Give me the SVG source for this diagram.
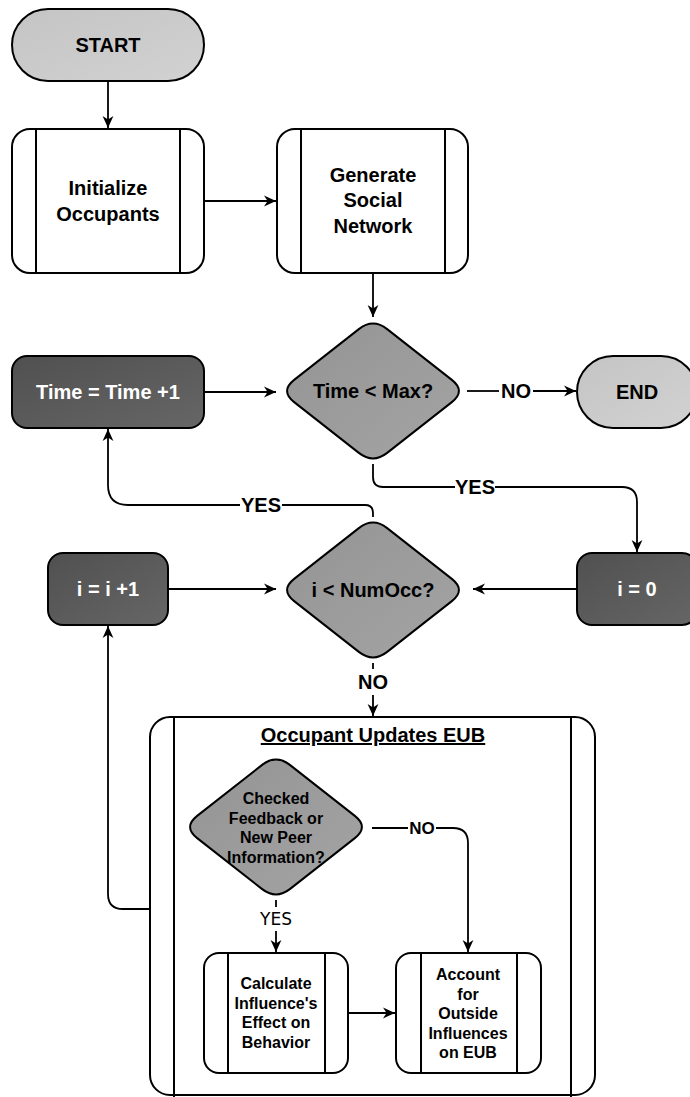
<svg xmlns="http://www.w3.org/2000/svg" width="690" height="1097" viewBox="0 0 690 1097">
  <style>
    .shape { stroke: #000; stroke-width: 2; }
    .edge { fill: none; stroke: #000; stroke-width: 1.8; }
    .arrow { marker-end: url(#head); }
    .term { fill: url(#gLight); }
    .dark { fill: url(#gDark); }
    .dec { fill: url(#gMid); }
    .proc { fill: #fff; }
    .frame { fill: none; }
    text { font-family: "Liberation Sans", Arial, sans-serif; font-weight: bold; text-anchor: middle; }
    .t20 { font-size: 20px; fill: #000; }
    .w20 { font-size: 20px; fill: #fff; }
    .t16 { font-size: 16px; fill: #000; }
    .lbl { font-size: 20px; fill: #000; }
    .lblS { font-size: 17px; fill: #000; }
    .lblYes { font-family: "DejaVu Sans", sans-serif; font-weight: normal; font-size: 17px; fill: #000; }
  </style>
  <defs>
    <linearGradient id="gLight" x1="0" y1="0" x2="1" y2="1">
      <stop offset="0" stop-color="#c4c4c4"/>
      <stop offset="1" stop-color="#d2d2d2"/>
    </linearGradient>
    <linearGradient id="gDark" x1="0" y1="0" x2="1" y2="1">
      <stop offset="0" stop-color="#505050"/>
      <stop offset="1" stop-color="#666666"/>
    </linearGradient>
    <linearGradient id="gMid" x1="0" y1="0" x2="1" y2="1">
      <stop offset="0" stop-color="#949494"/>
      <stop offset="1" stop-color="#a4a4a4"/>
    </linearGradient>
    <marker id="head" viewBox="0 0 10 10" refX="10" refY="5" markerWidth="12" markerHeight="12" markerUnits="userSpaceOnUse" orient="auto">
      <path d="M0,0.5 L10,5 L0,9.5 L3,5 Z" fill="#000"/>
    </marker>
    <!-- rounded rhombus centred on the origin -->
    <path id="rhombus" d="M-14.16,-61.89 Q0,-73 14.16,-61.89 L78.84,-11.11 Q93,0 78.84,11.11 L14.16,61.89 Q0,73 -14.16,61.89 L-78.84,11.11 Q-93,0 -78.84,-11.11 Z"/>
  </defs>

  <rect width="690" height="1097" fill="#fff"/>

  <!-- sub-process frame (drawn first so its contents sit on top) -->
  <g id="updates-eub">
    <rect class="shape frame" x="150" y="717" width="445" height="378" rx="20"/>
    <path class="shape" d="M174,717 V1097 M571,717 V1097"/>
    <text class="t20" x="373" y="742" text-decoration="underline">Occupant Updates EUB</text>
  </g>

  <!-- connectors -->
  <g id="connectors">
    <path class="edge arrow" d="M108,81 L108,128"/>
    <path class="edge arrow" d="M204,201 L276,201"/>
    <path class="edge arrow" d="M373,273 L373,317"/>
    <path class="edge arrow" d="M204,392 L276,392"/>
    <path class="edge" d="M467,391 L499,391"/>
    <text class="lbl" x="516" y="398">NO</text>
    <path class="edge arrow" d="M533,391 L576,391"/>
    <path class="edge" d="M373,464 L373,477 Q373,487 383,487 L455,487"/>
    <text class="lbl" x="475" y="494">YES</text>
    <path class="edge arrow" d="M495,487 L622,487 Q637,487 637,502 L637,552"/>
    <path class="edge arrow" d="M577,589 L473,589"/>
    <path class="edge arrow" d="M168,589 L276,589"/>
    <path class="edge" d="M373,517 L373,513 Q373,505 365,505 L282,505"/>
    <text class="lbl" x="261" y="512">YES</text>
    <path class="edge arrow" d="M240,505 L128,505 Q108,505 108,485 L108,429"/>
    <path class="edge" d="M373,663 L373,669"/>
    <text class="lbl" x="373" y="689">NO</text>
    <path class="edge arrow" d="M373,695 L373,716"/>
    <path class="edge arrow" d="M150,909 L123,909 Q108,909 108,894 L108,626"/>
    <path class="edge" d="M372,828 L408,828"/>
    <text class="lblS" x="422" y="834">NO</text>
    <path class="edge arrow" d="M436,828 L453,828 Q468,828 468,843 L468,952"/>
    <path class="edge" d="M276,900 L276,907"/>
    <text class="lblYes" x="276" y="925">YES</text>
    <path class="edge arrow" d="M276,931 L276,952"/>
    <path class="edge arrow" d="M348,1013 L395,1013"/>
  </g>

  <g id="start">
    <rect class="shape term" x="12" y="9" width="192" height="72" rx="36"/>
    <text class="t20" x="108" y="52">START</text>
  </g>

  <g id="init-occupants">
    <rect class="shape proc" x="12" y="129" width="192" height="144" rx="18"/>
    <path class="shape" d="M36,129 V273 M180,129 V273"/>
    <text class="t20" x="108" y="195">Initialize</text>
    <text class="t20" x="108" y="221">Occupants</text>
  </g>

  <g id="social-network">
    <rect class="shape proc" x="277" y="129" width="191" height="144" rx="18"/>
    <path class="shape" d="M301,129 V273 M445,129 V273"/>
    <text class="t20" x="373" y="182">Generate</text>
    <text class="t20" x="373" y="207">Social</text>
    <text class="t20" x="373" y="233">Network</text>
  </g>

  <g id="time-inc">
    <rect class="shape dark" x="12" y="356" width="192" height="72" rx="15"/>
    <text class="w20" x="108" y="399">Time = Time +1</text>
  </g>

  <g id="time-check">
    <use href="#rhombus" class="shape dec" transform="translate(373,391)"/>
    <text class="t20" x="373" y="398">Time &lt; Max?</text>
  </g>

  <g id="end">
    <rect class="shape term" x="577" y="356" width="120" height="72" rx="36"/>
    <text class="t20" x="637" y="399">END</text>
  </g>

  <g id="i-inc">
    <rect class="shape dark" x="48" y="553" width="120" height="72" rx="15"/>
    <text class="w20" x="108" y="596">i = i +1</text>
  </g>

  <g id="occ-check">
    <use href="#rhombus" class="shape dec" transform="translate(373,590)"/>
    <text class="t20" x="373" y="597">i &lt; NumOcc?</text>
  </g>

  <g id="i-zero">
    <rect class="shape dark" x="577" y="553" width="120" height="72" rx="15"/>
    <text class="w20" x="637" y="596">i = 0</text>
  </g>

  <g id="info-check">
    <use href="#rhombus" class="shape dec" transform="translate(276,827)"/>
    <text class="t16" x="276" y="804">Checked</text>
    <text class="t16" x="276" y="824">Feedback or</text>
    <text class="t16" x="276" y="843">New Peer</text>
    <text class="t16" x="276" y="863">Information?</text>
  </g>

  <g id="calc-influence">
    <rect class="shape proc" x="204" y="953" width="144" height="120" rx="15"/>
    <path class="shape" d="M228,953 V1073 M325,953 V1073"/>
    <text class="t16" x="276" y="989">Calculate</text>
    <text class="t16" x="276" y="1009">Influence's</text>
    <text class="t16" x="276" y="1028">Effect on</text>
    <text class="t16" x="276" y="1048">Behavior</text>
  </g>

  <g id="outside-influences">
    <rect class="shape proc" x="396" y="953" width="145" height="120" rx="15"/>
    <path class="shape" d="M421,953 V1073 M517,953 V1073"/>
    <text class="t16" x="468" y="980">Account</text>
    <text class="t16" x="468" y="1000">for</text>
    <text class="t16" x="468" y="1019">Outside</text>
    <text class="t16" x="468" y="1039">Influences</text>
    <text class="t16" x="468" y="1058">on EUB</text>
  </g>
</svg>
